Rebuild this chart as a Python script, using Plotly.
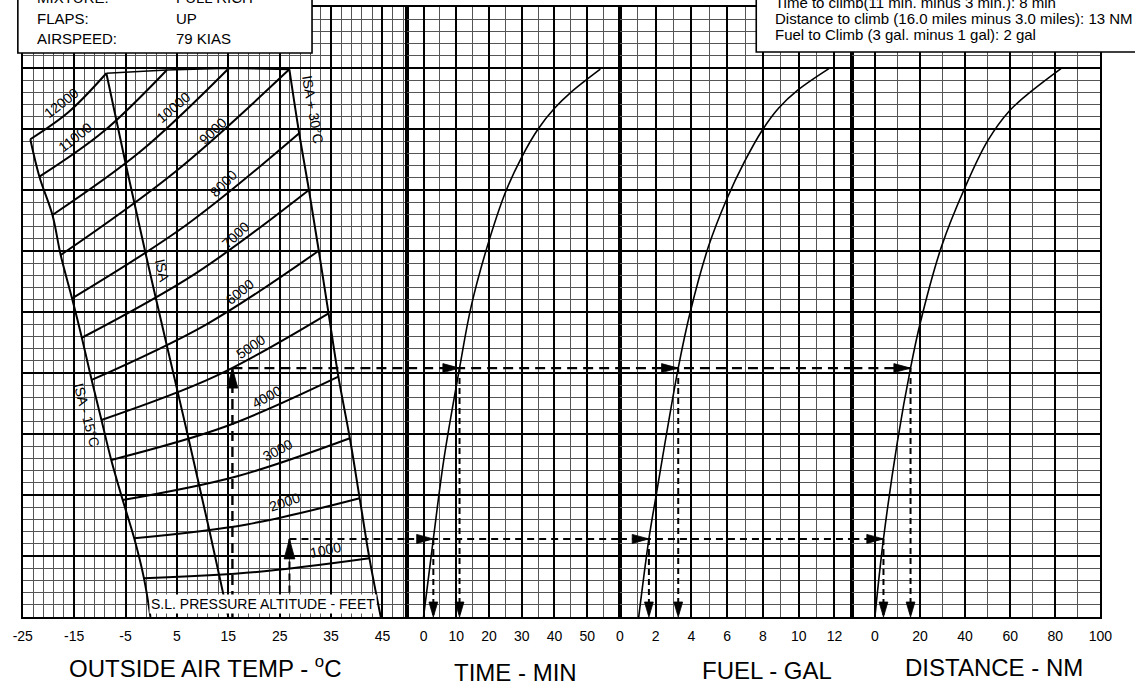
import plotly.graph_objects as go

FIG_W, FIG_H = 1135, 693
FONT = "Liberation Sans, Arial, Helvetica, sans-serif"

# ---------------- data ----------------
oat_ticks = [-25, -15, -5, 5, 15, 25, 35, 45]
time_ticks = [0, 10, 20, 30, 40, 50]
fuel_ticks = [0, 2, 4, 6, 8, 10, 12]
dist_ticks = [0, 20, 40, 60, 80, 100]

alt_names = ["12000", "11000", "10000", "9000", "8000", "7000",
             "6000", "5000", "4000", "3000", "2000", "1000"]
# pressure altitude lines: start / middle / end, OAT (deg C) and chart row
alt_oat = [
    [-23.53, -16.13, -8.73],
    [-21.76, -9.36, 3.04],
    [-19.22, -2.06, 15.11],
    [-17.62, 4.63, 26.88],
    [-15.41, 6.69, 28.79],
    [-13.50, 8.60, 30.69],
    [-11.59, 10.51, 32.60],
    [-9.68, 12.42, 34.51],
    [-7.78, 14.32, 36.42],
    [-5.55, 16.55, 38.65],
    [-3.31, 18.63, 40.56],
    [-1.41, 20.53, 42.46],
]
alt_row = [
    [39.16, 41.37, 44.57],
    [36.09, 39.77, 44.84],
    [32.95, 38.17, 44.98],
    [29.67, 36.48, 44.89],
    [26.12, 32.09, 39.65],
    [22.89, 28.15, 35.00],
    [19.43, 23.93, 30.02],
    [16.15, 19.72, 24.89],
    [12.87, 15.59, 19.70],
    [9.59, 11.52, 14.65],
    [6.45, 7.59, 9.73],
    [3.17, 3.69, 4.81],
]
alt_lab_oat = [-17.50, -14.76, 4.43, 11.95, 14.16, 16.39, 17.15, 19.25, 22.44, 24.65, 25.93, 33.88]
alt_lab_row = [42.11, 39.37, 41.78, 39.86, 35.55, 31.31, 26.66, 22.16, 18.06, 13.69, 9.45, 5.49]
alt_lab_angle = [-38, -38, -40, -43, -45, -43, -39, -34, -29, -27, -19, -12]

isa_m15_oat = [-23.53, -21.76, -19.22, -17.62, -15.41, -13.50, -11.59, -9.68, -7.78, -5.55, -3.31, -1.41, -0.15]
isa_m15_row = [39.16, 36.09, 32.95, 29.67, 26.12, 22.89, 19.43, 16.15, 12.87, 9.59, 6.45, 3.17, 0.0]
isa_oat = [-8.73, -4.92, -1.10, 2.71, 7.18, 11.30, 15.0]
isa_row = [44.57, 37.05, 29.81, 22.84, 14.78, 7.13, 0.0]
isa_p30_oat = [26.88, 28.79, 30.69, 32.60, 34.51, 36.42, 38.65, 40.56, 42.46, 44.67]
isa_p30_row = [44.89, 39.65, 35.00, 30.02, 24.89, 19.70, 14.65, 9.73, 4.81, 0.0]
top_oat = [-8.73, 3.04, 15.11, 26.88]
top_row = [44.57, 44.84, 44.98, 44.89]

time_min = [0, 3.0, 6.2, 11.0, 14.5, 19.5, 25.0, 30.0, 35.0, 40.0, 45.0, 54.0]
time_row = [0, 6.4, 12.9, 20.4, 25.4, 30.4, 34.8, 37.7, 40.0, 41.7, 43.0, 44.9]
fuel_gal = [1.05, 1.62, 2.04, 3.26, 3.95, 4.96, 5.96, 6.96, 7.96, 8.87, 9.96, 11.69]
fuel_row = [0, 6.4, 10.1, 20.4, 25.1, 30.4, 34.2, 37.3, 39.9, 41.7, 43.2, 44.95]
dist_nm = [0, 3.8, 10.0, 15.8, 20.1, 29.6, 39.7, 49.9, 59.7, 70.1, 82.5]
dist_row = [0, 6.4, 14.4, 20.4, 24.1, 30.4, 35.1, 39.0, 41.5, 43.2, 44.95]

# worked example (5000 ft at 15 C, 1000 ft at 27 C)
ex_oat = [15.8, 26.9]
ex_start_row = [0.0, 2.0]
ex_row = [20.4, 6.4]
ex_time = [11.0, 3.0]
ex_fuel = [3.26, 1.62]
ex_dist = [15.8, 3.8]
ex_dash = ["10px,6px", "7px,5px"]
ex_width = [2.4, 2.0]

left_box_keys = ["MIXTURE:", "FLAPS:", "AIRSPEED:"]
left_box_vals = ["FULL RICH", "UP", "79 KIAS"]
right_box_lines = ["Time to climb(11 min. minus 3 min.): 8 min",
                   "Distance to climb (16.0 miles minus 3.0 miles): 13 NM",
                   "Fuel to Climb (3 gal. minus 1 gal): 2 gal"]

# ---------------- layout geometry ----------------
DOM_PX = {"x": (13, 405), "x2": (405, 622), "x3": (622, 859), "x4": (859, 1112)}
RANGES = {"x": (-25, 49.8), "x2": (-5, 59.99), "x3": (0, 13), "x4": (-10, 100)}
Y_PX = (617, 7)
Y_RANGE = (0, 50)
Y_PPU = (Y_PX[0] - Y_PX[1]) / (Y_RANGE[1] - Y_RANGE[0])

MAJ = "#000000"
MINC = "#555555"


def ppu(ax):
    d0, d1 = DOM_PX[ax]
    r0, r1 = RANGES[ax]
    return (d1 - d0) / (r1 - r0)


fig = go.Figure()


def line(ax, xs, ys, width=2.0, dash=None, shape="linear", color="black"):
    fig.add_trace(go.Scatter(x=xs, y=ys, xaxis=ax, yaxis="y", mode="lines",
                             line=dict(color=color, width=width, dash=dash, shape=shape,
                                       smoothing=1.0 if shape == "spline" else None),
                             hoverinfo="skip", showlegend=False))


def arrow(ax, xt, yt, direction, length, half):
    kx = ppu(ax)
    ky = Y_PPU
    if direction == "up":
        xs = [xt - half / kx, xt + half / kx, xt]
        ys = [yt - length / ky, yt - length / ky, yt]
    elif direction == "down":
        xs = [xt - half / kx, xt + half / kx, xt]
        ys = [yt + length / ky, yt + length / ky, yt]
    else:
        xs = [xt - length / kx, xt - length / kx, xt]
        ys = [yt - half / ky, yt + half / ky, yt]
    fig.add_trace(go.Scatter(x=xs + [xs[0]], y=ys + [ys[0]], xaxis=ax, yaxis="y",
                             mode="lines", fill="toself", fillcolor="black",
                             line=dict(color="black", width=0.8),
                             hoverinfo="skip", showlegend=False))


# OAT panel lines
for xs, ys in zip(alt_oat, alt_row):
    line("x", xs, ys, width=2.0, shape="spline")
line("x", isa_m15_oat, isa_m15_row, width=2.0, shape="spline")
line("x", isa_oat, isa_row, width=2.0, shape="spline")
line("x", isa_p30_oat, isa_p30_row, width=2.0, shape="spline")
line("x", top_oat, top_row, width=1.6)

# right panel curves
line("x2", time_min, time_row, width=1.6, shape="spline")
line("x3", fuel_gal, fuel_row, width=1.6, shape="spline")
line("x4", dist_nm, dist_row, width=1.6, shape="spline")

# worked example
for k in range(len(ex_oat)):
    r = ex_row[k]
    d, w = ex_dash[k], ex_width[k]
    line("x", [ex_oat[k], ex_oat[k]], [ex_start_row[k], r], width=w, dash=d)
    line("x", [ex_oat[k], RANGES["x"][1]], [r, r], width=w, dash=d)
    line("x2", list(RANGES["x2"]), [r, r], width=w, dash=d)
    line("x3", list(RANGES["x3"]), [r, r], width=w, dash=d)
    line("x4", [RANGES["x4"][0], ex_dist[k]], [r, r], width=w, dash=d)
    for ax, v in (("x2", ex_time[k]), ("x3", ex_fuel[k]), ("x4", ex_dist[k])):
        line(ax, [v, v], [r, 0], width=2.0, dash="6px,4px")
        arrow(ax, v, r, "right", 17, 4.5)
        arrow(ax, v, 0, "down", 15, 4.5)
    arrow("x", ex_oat[k], r, "up", 20, 5.5)


def xaxis(ax, ticks, minor_dtick):
    d0, d1 = DOM_PX[ax]
    return dict(domain=[d0 / FIG_W, d1 / FIG_W], range=list(RANGES[ax]), anchor="y",
                tickmode="array", tickvals=ticks, ticktext=[str(t) for t in ticks],
                showgrid=True, gridcolor=MAJ, gridwidth=1.5,
                minor=dict(tickmode="linear", tick0=RANGES[ax][0], dtick=minor_dtick,
                           showgrid=True, gridcolor=MINC, gridwidth=1),
                showline=True, linecolor="black", linewidth=1.8, mirror=True,
                zeroline=False, ticks="", ticklabelstandoff=5,
                tickfont=dict(family=FONT, size=14, color="black"), fixedrange=True)


annotations = []
for name, xo, yr, ang in zip(alt_names, alt_lab_oat, alt_lab_row, alt_lab_angle):
    annotations.append(dict(x=xo, y=yr, xref="x", yref="y", text=name, showarrow=False,
                            textangle=ang, font=dict(family=FONT, size=14, color="black")))
annotations += [
    dict(x=2.22, y=28.39, xref="x", yref="y", text="ISA", showarrow=False, textangle=77,
         font=dict(family=FONT, size=14, color="black")),
    dict(x=31.46, y=41.56, xref="x", yref="y", text="ISA + 30°C", showarrow=False, textangle=80,
         font=dict(family=FONT, size=14, color="black")),
    dict(x=-12.55, y=16.56, xref="x", yref="y", text="ISA - 15°C", showarrow=False, textangle=75,
         font=dict(family=FONT, size=14, color="black")),
    dict(x=21.8, y=1.1, xref="x", yref="y", text="S.L. PRESSURE ALTITUDE - FEET", showarrow=False,
         bgcolor="white", borderpad=1, font=dict(family=FONT, size=14, color="black")),
]

# axis titles
titles = [("OUTSIDE AIR TEMP - <sup>o</sup>C", 199, 667), ("TIME - MIN", 516, 672),
          ("FUEL - GAL", 772, 670), ("DISTANCE - NM", 1003, 667)]
for txt, xp, yp in titles:
    annotations.append(dict(x=xp / FIG_W, y=(FIG_H - yp) / FIG_H, xref="paper", yref="paper",
                            text=txt, showarrow=False, xanchor="center", yanchor="middle",
                            font=dict(family=FONT, size=24, color="black")))

# boxes text
for i, (k, v) in enumerate(zip(left_box_keys, left_box_vals)):
    yp = -3 + 21 * i
    annotations.append(dict(x=25 / FIG_W, y=(FIG_H - yp) / FIG_H, xref="paper", yref="paper",
                            text=k, showarrow=False, xanchor="left", yanchor="middle",
                            font=dict(family=FONT, size=15, color="black")))
    annotations.append(dict(x=167 / FIG_W, y=(FIG_H - yp) / FIG_H, xref="paper", yref="paper",
                            text=v, showarrow=False, xanchor="left", yanchor="middle",
                            font=dict(family=FONT, size=15, color="black")))
for i, t in enumerate(right_box_lines):
    yp = 2 + 16.5 * i
    annotations.append(dict(x=778 / FIG_W, y=(FIG_H - yp) / FIG_H, xref="paper", yref="paper",
                            text=t, showarrow=False, xanchor="left", yanchor="middle",
                            font=dict(family=FONT, size=15, color="black")))

shapes = [
    dict(type="rect", xref="paper", yref="paper", x0=8 / FIG_W, x1=308 / FIG_W,
         y0=(FIG_H - 53) / FIG_H, y1=1.1, fillcolor="white",
         line=dict(color="black", width=1.6), layer="above"),
    dict(type="rect", xref="paper", yref="paper", x0=761 / FIG_W, x1=1.1,
         y0=(FIG_H - 52) / FIG_H, y1=1.1, fillcolor="white",
         line=dict(color="black", width=1.6), layer="above"),
]

fig.update_layout(
    width=FIG_W, height=FIG_H, margin=dict(l=0, r=0, t=0, b=0),
    paper_bgcolor="white", plot_bgcolor="white", showlegend=False,
    font=dict(family=FONT, color="black"),
    xaxis=xaxis("x", oat_ticks, 2),
    xaxis2=xaxis("x2", time_ticks, 5),
    xaxis3=xaxis("x3", fuel_ticks, 1),
    xaxis4=xaxis("x4", dist_ticks, 10),
    yaxis=dict(domain=[(FIG_H - Y_PX[0]) / FIG_H, (FIG_H - Y_PX[1]) / FIG_H], range=list(Y_RANGE),
               anchor="x", tickmode="linear", tick0=0, dtick=5,
               showgrid=True, gridcolor=MAJ, gridwidth=1.5,
               minor=dict(tickmode="linear", tick0=0, dtick=1, showgrid=True,
                          gridcolor=MINC, gridwidth=1),
               showticklabels=False, ticks="", showline=True, linecolor="black",
               linewidth=1.8, mirror="all", zeroline=False, fixedrange=True),
    annotations=annotations, shapes=shapes,
)

fig.write_html("out.html", config={"displayModeBar": False},
               post_script="document.body.style.margin='0px';"
                           "document.documentElement.style.overflow='hidden';")
